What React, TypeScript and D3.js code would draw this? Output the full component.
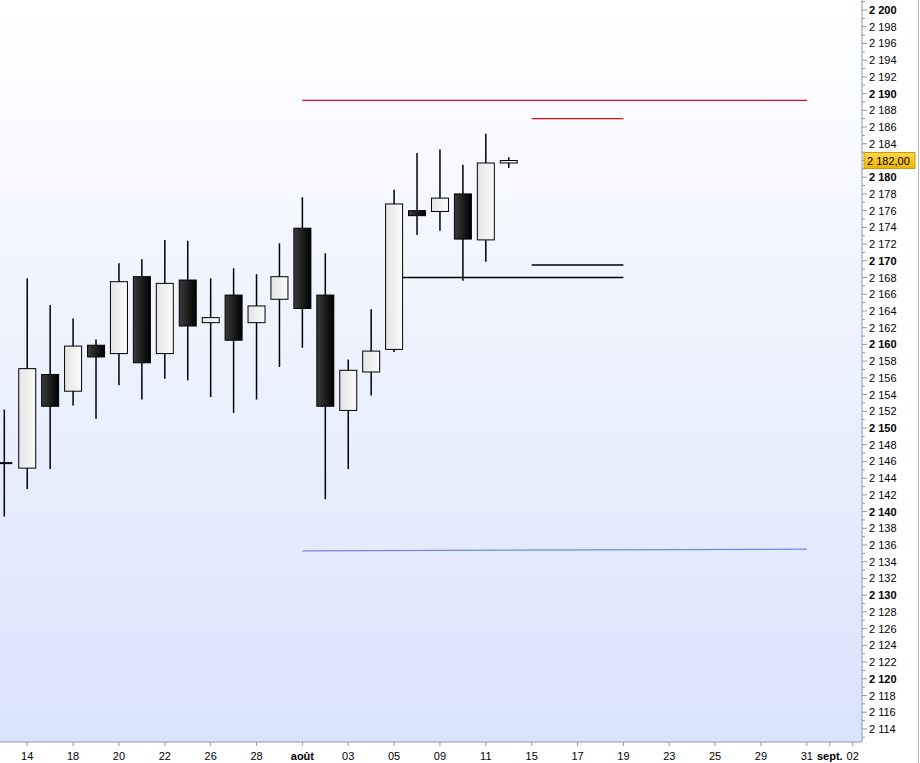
import * as d3 from "d3";
import React from "react";

// trading days, index = position on the x axis
const days = [
  "07-13", "07-14", "07-15", "07-18", "07-19", "07-20", "07-21", "07-22",
  "07-25", "07-26", "07-27", "07-28", "07-29", "08-01", "08-02", "08-03",
  "08-04", "08-05", "08-08", "08-09", "08-10", "08-11", "08-12", "08-15",
  "08-16", "08-17", "08-18", "08-19", "08-22", "08-23", "08-24", "08-25",
  "08-26", "08-29", "08-30", "08-31", "09-01", "09-02",
];

// OHLC for the first 23 days
const opens = [
  2145.7, 2145.2, 2156.4, 2154.4, 2159.9, 2158.9, 2168.1, 2158.9, 2167.7,
  2162.6, 2165.9, 2162.6, 2165.4, 2173.9, 2165.9, 2152.1, 2156.7, 2159.4,
  2176.0, 2175.9, 2178.0, 2172.5, 2181.7,
];
const highs = [
  2152.2, 2167.9, 2164.7, 2163.1, 2160.6, 2169.7, 2170.2, 2172.5, 2172.4,
  2167.9, 2169.1, 2168.4, 2172.1, 2177.6, 2170.9, 2158.2, 2164.2, 2178.5,
  2182.9, 2183.3, 2181.5, 2185.2, 2182.4,
];
const lows = [
  2139.4, 2142.7, 2145.1, 2152.7, 2151.1, 2155.1, 2153.4, 2155.9, 2155.7,
  2153.7, 2151.8, 2153.4, 2157.3, 2159.6, 2141.5, 2145.1, 2153.9, 2159.1,
  2173.1, 2173.6, 2167.6, 2169.9, 2181.1,
];
const closes = [
  2145.8, 2157.1, 2152.6, 2159.8, 2158.5, 2167.5, 2157.8, 2167.3, 2162.2,
  2163.2, 2160.5, 2164.6, 2168.1, 2164.3, 2152.6, 2156.9, 2159.2, 2176.8,
  2175.4, 2177.5, 2172.6, 2181.7, 2182.0,
];

// drawn levels: start day, end day, start value, end value, colour
const levelFrom = ["08-01", "08-15", "08-05", "08-15", "08-01"];
const levelTo = ["08-31", "08-19", "08-19", "08-19", "08-31"];
const levelStart = [2189.2, 2187.0, 2168.0, 2169.5, 2135.3];
const levelEnd = [2189.2, 2187.0, 2168.0, 2169.5, 2135.5];
const levelColor = ["#d0101c", "#d0101c", "#000000", "#000000", "#6f8ad8"];

const tickDays = [
  "07-14", "07-18", "07-20", "07-22", "07-26", "07-28", "08-01", "08-03",
  "08-05", "08-09", "08-11", "08-15", "08-17", "08-19", "08-23", "08-25",
  "08-29", "08-31", "09-01", "09-02",
];
const tickLabels = [
  "14", "18", "20", "22", "26", "28", "août", "03", "05", "09", "11", "15",
  "17", "19", "23", "25", "29", "31", "sept.", "02",
];
const boldTicks = ["août", "sept."];

const lastPrice = 2182.0;

const W = 920;
const H = 763;
const plotRight = 862;
const plotBottom = 742;
const font = "'Liberation Sans', Arial, sans-serif";

function fmt(v: number): string {
  return `${Math.floor(v / 1000)} ${String(v % 1000).padStart(3, "0")}`;
}

export default function App(): React.ReactElement {
  const x = d3.scaleLinear().domain([0, days.length - 1]).range([4.3, 852.7]);
  const y = d3.scaleLinear().domain([2200, 2120]).range([10, 678.8]);
  const xi = (d: string) => x(days.indexOf(d));

  const bodyW = 17;
  const minorTicks = d3.range(2113, 2202, 1);
  // the price tag sits where the 2 182 label would be
  const labelTicks = d3.range(2114, 2201, 2).filter((t) => t !== lastPrice);

  return (
    <svg
      height={H}
      style={{ left: 0, position: "absolute", top: 0 }}
      width={W}
    >
      <defs>
        <linearGradient id="bg" x1="0" x2="0" y1="0" y2="1">
          <stop offset="0" stopColor="#ffffff" />
          <stop offset="1" stopColor="#d9e3fb" />
        </linearGradient>
        <linearGradient id="up" x1="0" x2="1" y1="0" y2="0">
          <stop offset="0" stopColor="#e4e4e4" />
          <stop offset="1" stopColor="#fbfbfb" />
        </linearGradient>
        <linearGradient id="down" x1="0" x2="1" y1="0" y2="0">
          <stop offset="0" stopColor="#3c3c3c" />
          <stop offset="1" stopColor="#000000" />
        </linearGradient>
        <linearGradient id="tag" x1="0" x2="0" y1="0" y2="1">
          <stop offset="0" stopColor="#fbd94a" />
          <stop offset="1" stopColor="#f0b400" />
        </linearGradient>
      </defs>

      <rect fill="#ffffff" height={H} width={W} />
      <rect fill="url(#bg)" height={plotBottom} width={plotRight} />

      {/* horizontal levels */}
      {levelFrom.map((f, i) => (
        <line
          key={`lv-${i}`}
          stroke={levelColor[i]}
          strokeWidth={1.3}
          x1={xi(f)}
          x2={xi(levelTo[i])}
          y1={y(levelStart[i])}
          y2={y(levelEnd[i])}
        />
      ))}

      {/* candles */}
      {opens.map((o, i) => {
        const c = closes[i];
        const cx = x(i);
        const top = y(Math.max(o, c));
        const bot = y(Math.min(o, c));
        const up = c >= o;
        const doji = Math.abs(bot - top) < 1.5;
        return (
          <g key={`c-${i}`}>
            <line
              stroke="#000"
              strokeWidth={1.5}
              x1={cx}
              x2={cx}
              y1={y(highs[i])}
              y2={y(lows[i])}
            />
            {doji && i === 0 ? (
              <line
                stroke="#000"
                strokeWidth={2}
                x1={cx - 4.3}
                x2={cx + 8}
                y1={top}
                y2={top}
              />
            ) : (
              <rect
                fill={up ? "url(#up)" : "url(#down)"}
                height={Math.max(bot - top, 2)}
                stroke="#000"
                strokeWidth={1}
                width={bodyW}
                x={cx - bodyW / 2}
                y={top}
              />
            )}
          </g>
        );
      })}

      {/* right axis */}
      <line stroke="#8a9ab8" x1={plotRight} x2={plotRight} y1={0} y2={plotBottom} />
      {minorTicks.map((t) => (
        <line
          key={`ym-${t}`}
          stroke="#8a9ab8"
          x1={plotRight}
          x2={plotRight + (t % 2 === 0 ? 5 : 3)}
          y1={y(t)}
          y2={y(t)}
        />
      ))}
      {labelTicks.map((t) => (
        <text
          dominantBaseline="central"
          fill="#000"
          fontFamily={font}
          fontSize={11}
          fontWeight={t % 10 === 0 ? "bold" : "normal"}
          key={`yl-${t}`}
          x={plotRight + 7}
          y={y(t)}
        >
          {fmt(t)}
        </text>
      ))}

      {/* last price tag */}
      <rect
        fill="url(#tag)"
        height={16}
        stroke="#c99a10"
        width={51}
        x={plotRight + 2}
        y={y(lastPrice) - 8}
      />
      <text
        dominantBaseline="central"
        fill="#000"
        fontFamily={font}
        fontSize={11}
        x={plotRight + 5}
        y={y(lastPrice) + 0.5}
      >
        2 182,00
      </text>

      {/* bottom axis */}
      <line stroke="#8a9ab8" x1={0} x2={plotRight} y1={plotBottom} y2={plotBottom} />
      {tickDays.map((d, i) => (
        <g key={`xt-${d}`} transform={`translate(${xi(d)},0)`}>
          <line stroke="#8a9ab8" x1={0} x2={0} y1={plotBottom} y2={plotBottom + 4} />
          <text
            fill="#000"
            fontFamily={font}
            fontSize={11}
            fontWeight={boldTicks.includes(tickLabels[i]) ? "bold" : "normal"}
            textAnchor="middle"
            y={plotBottom + 18}
          >
            {tickLabels[i]}
          </text>
        </g>
      ))}

      <line stroke="#b8b8b8" x1={918.5} x2={918.5} y1={0} y2={H} />
    </svg>
  );
}
